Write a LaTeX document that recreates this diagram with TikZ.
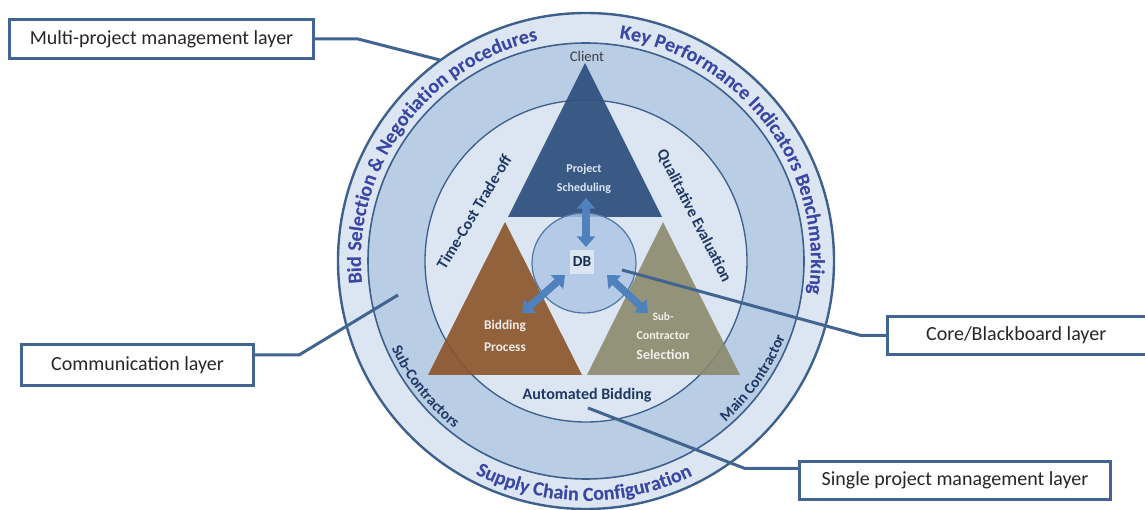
\documentclass[tikz,border=0pt]{standalone}
\usepackage{fontspec}
\setmainfont{Carlito}
\usepackage{tikz}
\usetikzlibrary{arrows.meta,calc,positioning,decorations.text}
\definecolor{ringlight}{RGB}{220,230,242}
\definecolor{ringmid}{RGB}{185,205,229}
\definecolor{ringline}{RGB}{62,96,140}
\definecolor{boxline}{RGB}{65,100,145}
\definecolor{topblue}{RGB}{46,80,126}
\definecolor{bidbrown}{RGB}{139,84,42}
\definecolor{subolive}{RGB}{138,138,108}
\definecolor{dbfill}{RGB}{170,196,228}
\definecolor{dbline}{RGB}{80,118,165}
\definecolor{arrowblue}{RGB}{79,129,189}
\definecolor{outertext}{RGB}{58,70,165}
\definecolor{navytext}{RGB}{31,56,100}
\definecolor{shadowtext}{RGB}{140,150,190}

\tikzset{
  layerbox/.style={draw=boxline,line width=2.25pt,fill=white,inner sep=0pt,
    font=\fontsize{15}{17}\selectfont,text=black!85},
  callout/.style={boxline,line width=2.25pt},
  dbarrow/.style={arrowblue,line width=5.5pt,
    {Triangle[length=8pt,width=13.5pt]}-{Triangle[length=8pt,width=13.5pt]}},
  tritext/.style={font=\bfseries\fontsize{9}{14}\selectfont,align=center,inner sep=0pt},
  slanttext/.style={font=\bfseries\fontsize{12}{14}\selectfont,text=navytext,inner sep=0pt}
}

\begin{document}
\begin{tikzpicture}[x=0.75pt,y=0.75pt,>=Stealth]
  \useasboundingbox (0,0) rectangle (1145,510);
  \clip (0,0) rectangle (1145,510);
  \coordinate (C) at (586,249);
  % rings
  \fill[ringlight] (C) circle (248);
  \fill[ringmid] (C) circle (218);
  \fill[ringlight] (C) circle (161);
  \draw[ringline,line width=1.8pt] (C) circle (248);
  \draw[ringline,line width=1.2pt] (C) circle (218);
  \draw[ringline,line width=1pt] (C) circle (161);

  % the three triangles
  \fill[topblue,fill opacity=0.93] (585,447) -- (662,293) -- (508,293) -- cycle;
  \fill[bidbrown,fill opacity=0.9] (505,288) -- (582,135) -- (428,135) -- cycle;
  \fill[subolive,fill opacity=0.9] (663,288) -- (740,135) -- (587,135) -- cycle;

  % blackboard
  \coordinate (db) at (584,247);
  \draw[dbline,fill=dbfill,fill opacity=0.8,line width=0.9pt] (db) ellipse [x radius=52,y radius=50];
  \node[fill=ringlight,minimum size=17.5pt,inner sep=0pt,font=\bfseries\fontsize{11.5}{13}\selectfont,text=navytext!80!black] (dbbox) at (582,248) {DB};

  \coordinate (psS) at (586,312);  \coordinate (dbN) at (586,263);
  \coordinate (bpN) at (522,197);  \coordinate (dbW) at (565,235);
  \coordinate (scN) at (648,197);  \coordinate (dbE) at (607,235);
  \draw[dbarrow] (psS) -- (dbN);
  \draw[dbarrow] (bpN) -- (dbW);
  \draw[dbarrow] (scN) -- (dbE);

  % labels in the triangles
  \node[font=\fontsize{11}{13}\selectfont,text=black!75] (client) at (587,454) {Client};
  \node[tritext,text=ringlight] (sched) at (584,331) {Project\\Scheduling};
  \node[tritext,text=white!88!bidbrown,font=\bfseries\fontsize{10}{16.5}\selectfont] (bidproc) at (505,174) {Bidding\\Process};
  \node[tritext,text=white!88!subolive,font=\bfseries\fontsize{9}{14.6}\selectfont] (subsel) at (663,174)
    {{\fontsize{8.5}{10}\selectfont Sub-}\\Contractor\\{\fontsize{10.5}{12}\selectfont Selection}};
  \node[font=\bfseries\fontsize{12}{14}\selectfont,text=navytext] (auto) at (587,115) {Automated Bidding};
  \node[slanttext,rotate=59] (tct) at (474,298) {Time-Cost Trade-off};
  \node[slanttext,rotate=-63] (qual) at (694,294) {Qualitative Evaluation};

  % curved ring labels
  \foreach \tcol/\off in {shadowtext/1.4,outertext/0}{
    \begin{scope}[shift={(\off,-\off)}]
      \path[decorate,decoration={text along path,text align=center,
        text={|\bfseries\fontsize{15}{17}\selectfont\color{\tcol}|Bid Selection {\&} Negotiation procedures}}]
        ($(C)+(194:225)$) arc[start angle=194,end angle=94,radius=225];
      \path[decorate,decoration={text along path,text align=center,
        text={|\bfseries\fontsize{15}{17}\selectfont\color{\tcol}|Key Performance Indicators Benchmarking}}]
        ($(C)+(86:225)$) arc[start angle=86,end angle=-13,radius=225];
      \path[decorate,decoration={text along path,text align=center,
        text={|\bfseries\fontsize{15}{17}\selectfont\color{\tcol}|Supply Chain Configuration}}]
        ($(C)+(234:240)$) arc[start angle=234,end angle=305,radius=240];
    \end{scope}
  }
  \path[decorate,decoration={text along path,text align=center,
    text={|\bfseries\fontsize{11.5}{13}\selectfont\color{navytext}|Sub-Contractors}}]
    ($(C)+(193:213)$) arc[start angle=193,end angle=243,radius=213];
  \path[decorate,decoration={text along path,text align=center,
    text={|\bfseries\fontsize{11.5}{13}\selectfont\color{navytext}|Main Contractor}}]
    ($(C)+(-60:213)$) arc[start angle=-60,end angle=-10,radius=213];

  % layer call-outs
  \node[layerbox,minimum width=228pt,minimum height=29.25pt] (multi) at (161.5,471) {Multi-project management layer};
  \node[layerbox,minimum width=174pt,minimum height=30.75pt] (comm) at (137.5,145) {Communication layer};
  \node[layerbox,minimum width=195pt,minimum height=28.5pt] (core) at (1017.5,174.5) {\hspace*{-2pt}Core/Blackboard layer};
  \node[layerbox,minimum width=233.25pt,minimum height=28.5pt] (single) at (955,29.5) {Single project management layer};
  \coordinate (multiend) at (440,450);
  \coordinate (commend) at (398,215);
  \coordinate (coreend) at (622,240);
  \coordinate (singleend) at (588,102);
  \draw[callout] (multi.east) -- ++(43,0) -- (multiend);
  \draw[callout] ([yshift=7.5pt]comm.east) -- ++(44,0) -- (commend);
  \draw[callout] (core.west) -- ++(-25,0) -- (coreend);
  \draw[callout] ([yshift=9pt]single.west) -- ++(-53,0) -- (singleend);
\end{tikzpicture}
\end{document}
